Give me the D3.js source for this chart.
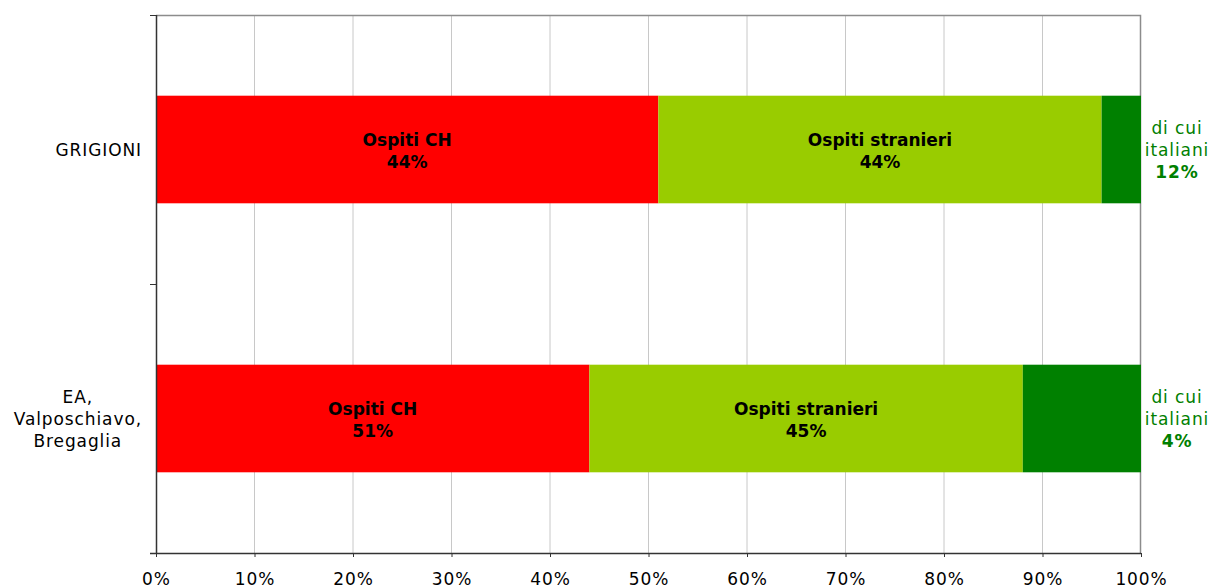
<!DOCTYPE html>
<meta charset="utf-8">
<style>
body { margin: 0; background: #fff; }
text { font-family: "DejaVu Sans", Verdana, sans-serif; }
.tick text { font-size: 17px; letter-spacing: 0.9px; fill: #000; }
.cat { font-size: 17px; letter-spacing: 0.9px; fill: #000; }
.seg { font-size: 17px; font-weight: bold; fill: #000; }
.ita { font-size: 17px; letter-spacing: 0.9px; fill: #008000; }
</style>
<body>
<script src="https://d3js.org/d3.v7.min.js"></script>
<script>

// data
var categories = [["GRIGIONI"], ["EA,", "Valposchiavo,", "Bregaglia"]];
var ospitiCH       = [51, 44];
var ospitiStranieri = [45, 44];
var diCuiItaliani  = [4, 12];
// percentages printed inside the bars (as in the original picture)
var labelCH        = ["44%", "51%"];
var labelStranieri = ["44%", "45%"];
var labelItaliani  = ["12%", "4%"];
var xTicks = [0, 10, 20, 30, 40, 50, 60, 70, 80, 90, 100];

var margin = {top: 15, right: 71, bottom: 35, left: 156},
    width = 1212 - margin.left - margin.right,
    height = 588 - margin.top - margin.bottom;

var svg = d3.select("body").append("svg")
    .attr("width", 1212)
    .attr("height", 588)
  .append("g")
    .attr("transform", "translate(" + margin.left + "," + margin.top + ")");

var x = d3.scaleLinear().domain([0, 100]).range([0, width]);
var y = d3.scaleBand()
    .domain(d3.range(categories.length))
    .range([0, height])
    .paddingInner(0.6)
    .paddingOuter(0.3);

// gridlines
svg.selectAll(".grid")
    .data(xTicks.slice(1, -1))
  .enter().append("line")
    .attr("x1", function(d) { return x(d); })
    .attr("x2", function(d) { return x(d); })
    .attr("y1", 0)
    .attr("y2", height)
    .attr("stroke", "#c8c8c8")
    .attr("stroke-width", 1);

// plot area border (top and right)
svg.append("path")
    .attr("d", "M0,0.5H" + (width - 0.5) + "V" + height)
    .attr("fill", "none")
    .attr("stroke", "#8c8c8c")
    .attr("stroke-width", 1.5);

// stacked segments
var rows = categories.map(function(c, i) {
  return [
    {i: i, x0: 0, x1: ospitiCH[i], color: "#ff0000", name: "Ospiti CH", label: labelCH[i]},
    {i: i, x0: ospitiCH[i], x1: ospitiCH[i] + ospitiStranieri[i], color: "#99cc00", name: "Ospiti stranieri", label: labelStranieri[i]},
    {i: i, x0: ospitiCH[i] + ospitiStranieri[i], x1: ospitiCH[i] + ospitiStranieri[i] + diCuiItaliani[i], color: "#008000", name: null, label: labelItaliani[i]}
  ];
});
var segs = [].concat.apply([], rows);

svg.selectAll(".bar")
    .data(segs)
  .enter().append("rect")
    .attr("x", function(d) { return x(d.x0); })
    .attr("width", function(d) { return x(d.x1) - x(d.x0); })
    .attr("y", function(d) { return y(d.i); })
    .attr("height", y.bandwidth())
    .attr("fill", function(d) { return d.color; });

// labels inside the red and light green parts
var inner = svg.selectAll(".seg")
    .data(segs.filter(function(d) { return d.name; }))
  .enter().append("text")
    .attr("class", "seg")
    .attr("text-anchor", "middle")
    .attr("transform", function(d) {
      return "translate(" + x((d.x0 + d.x1) / 2) + "," + (y(d.i) + y.bandwidth() / 2) + ")";
    });
inner.append("tspan").attr("x", 0).attr("y", -4).text(function(d) { return d.name; });
inner.append("tspan").attr("x", 0).attr("y", 18).text(function(d) { return d.label; });

// "di cui italiani" labels to the right of the bars
var ita = svg.selectAll(".ita")
    .data(segs.filter(function(d) { return !d.name; }))
  .enter().append("text")
    .attr("class", "ita")
    .attr("text-anchor", "middle")
    .attr("transform", function(d) {
      return "translate(" + (width + 36) + "," + (y(d.i) + y.bandwidth() / 2) + ")";
    });
ita.append("tspan").attr("x", 0).attr("y", -16).text("di cui");
ita.append("tspan").attr("x", 0).attr("y", 6).text("italiani");
ita.append("tspan").attr("x", 0).attr("y", 28).style("font-weight", "bold").text(function(d) { return d.label; });

// x axis
svg.append("g")
    .attr("transform", "translate(0," + height + ")")
    .call(d3.axisBottom(x)
      .tickValues(xTicks)
      .tickSize(4)
      .tickPadding(16)
      .tickFormat(function(d) { return d + "%"; }))
    .call(function(g) {
      g.select(".domain").attr("stroke", "#333").attr("stroke-width", 1.5)
        .attr("d", "M-6,0.5H" + width);
      g.selectAll(".tick line").attr("stroke", "#333");
      g.selectAll(".tick text").attr("dy", "0.71em");
    });

// y axis: line with ticks at the category boundaries
var yb = d3.scaleLinear().domain([0, categories.length]).range([0, height]);
svg.append("g")
    .call(d3.axisLeft(yb).tickValues(d3.range(categories.length + 1)).tickSize(6).tickFormat(""))
    .call(function(g) {
      g.select(".domain").attr("stroke", "#333").attr("stroke-width", 1.5).attr("d", "M0.5,0V" + height);
      g.selectAll(".tick line").attr("stroke", "#333");
    });

// category labels, lines centred, block right-aligned
categories.forEach(function(lines, i) {
  var t = svg.append("text")
      .attr("class", "cat")
      .attr("text-anchor", "middle");
  var cy = y(i) + y.bandwidth() / 2;
  var lh = 22;
  lines.forEach(function(s, k) {
    t.append("tspan")
      .attr("y", cy + 6 + (k - (lines.length - 1) / 2) * lh)
      .text(s);
  });
  var w = 0;
  t.selectAll("tspan").each(function() { w = Math.max(w, this.getComputedTextLength()); });
  t.selectAll("tspan").attr("x", -14 - w / 2);
});

</script>
</body>
